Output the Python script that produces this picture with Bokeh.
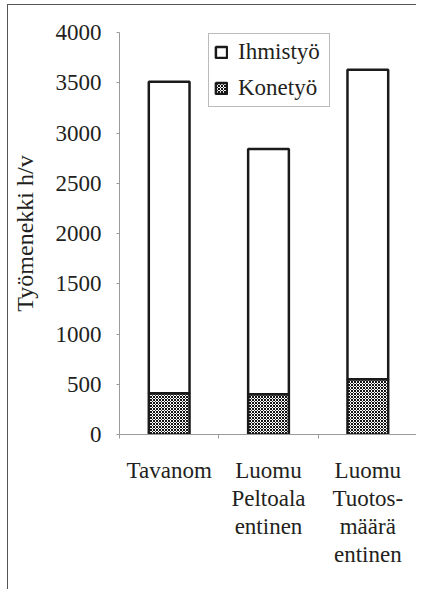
from bokeh.plotting import figure
from bokeh.models import (ColumnDataSource, Range1d, FixedTicker, Legend, LegendItem)
from bokeh.embed import file_html
from bokeh.resources import INLINE

# ---- data ----
categories = ["Tavanom", "Luomu\nPeltoala\nentinen", "Luomu\nTuotos-\nmäärä\nentinen"]
konetyo = [410, 400, 550]
ihmistyo = [3100, 2440, 3080]
series_names = ["Konetyö", "Ihmistyö"]
y_label = "Työmenekki h/v"
y_ticks = [0, 500, 1000, 1500, 2000, 2500, 3000, 3500, 4000]

xpos = [i + 0.5 for i in range(len(categories))]
src = ColumnDataSource(dict(x=xpos, kone=konetyo, ihmis=ihmistyo))

FONT = "'Liberation Serif', 'Times New Roman', serif"
FS = "23px"
TXT = "#231f20"
AX = "#9a9a9a"

p = figure(width=409, height=585, output_backend="svg", toolbar_location=None,
           x_range=Range1d(0, len(categories)), y_range=Range1d(0, 4000),
           min_border_left=109, min_border_right=0, min_border_top=27, min_border_bottom=156)
p.outline_line_color = None
p.xgrid.visible = False
p.ygrid.visible = False
p.background_fill_color = "white"
p.border_fill_color = "white"
p.styles = {"margin-left": "7px", "margin-top": "4px",
            "border-top": "1px solid #555", "border-left": "1px solid #555"}

r = p.vbar_stack(["kone", "ihmis"], x="x", width=0.41, source=src,
                 fill_color=["white", "white"], line_color="#1a1a1a", line_width=2.5,
                 hatch_pattern=["diagonal_cross", None], hatch_color="#111111",
                 hatch_scale=3.0, hatch_weight=1.0)

legend = Legend(items=[LegendItem(label=series_names[1], renderers=[r[1]]),
                       LegendItem(label=series_names[0], renderers=[r[0]])],
                location=(89, 327))
legend.label_text_font = FONT
legend.label_text_font_size = FS
legend.label_text_color = TXT
legend.glyph_width = 14
legend.glyph_height = 14
legend.label_standoff = 10
legend.label_width = 86
legend.spacing = 10
legend.padding = 5
legend.margin = 0
legend.border_line_color = "#777777"
legend.border_line_width = 1
legend.background_fill_alpha = 1
p.add_layout(legend, "center")

# y axis
ya = p.yaxis[0]
ya.ticker = FixedTicker(ticks=y_ticks)
ya.axis_line_color = AX
ya.major_tick_line_color = AX
ya.major_tick_out = 3
ya.major_tick_in = 0
ya.minor_tick_line_color = None
ya.major_label_text_font = FONT
ya.major_label_text_font_size = FS
ya.major_label_text_color = TXT
ya.major_label_standoff = 15
ya.axis_label = y_label
ya.axis_label_text_font = FONT
ya.axis_label_text_font_size = "24px"
ya.axis_label_text_font_style = "normal"
ya.axis_label_text_color = TXT
ya.axis_label_standoff = 15

# x axis
xa = p.xaxis[0]
xa.ticker = FixedTicker(ticks=xpos, minor_ticks=list(range(len(categories) + 1)))
xa.major_label_overrides = {x: c for x, c in zip(xpos, categories)}
xa.axis_line_color = AX
xa.major_tick_line_color = None
xa.major_tick_out = 0
xa.major_tick_in = 0
xa.minor_tick_line_color = AX
xa.minor_tick_out = 4
xa.minor_tick_in = 0
xa.major_label_text_font = FONT
xa.major_label_text_font_size = FS
xa.major_label_text_color = TXT
xa.major_label_text_line_height = 1.12
xa.major_label_standoff = 19

open("out.html", "w").write(file_html(p, INLINE))
